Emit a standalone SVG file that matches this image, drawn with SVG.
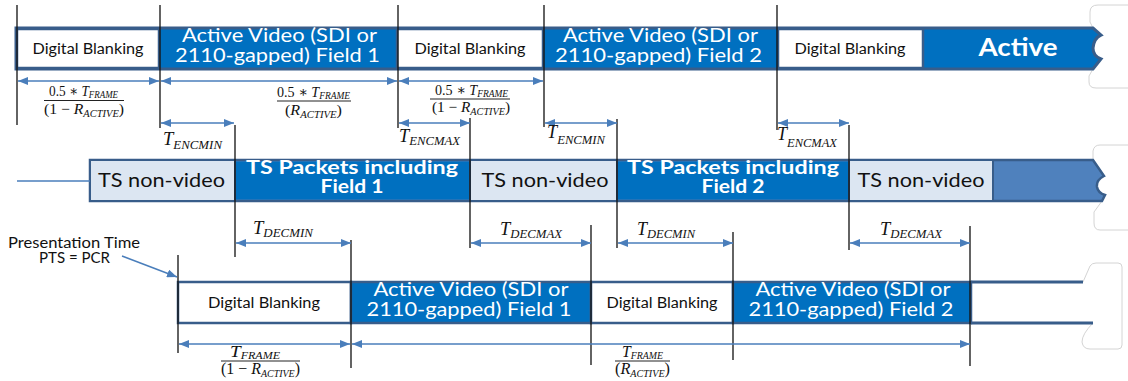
<svg xmlns="http://www.w3.org/2000/svg" width="1128" height="381" viewBox="0 0 1128 381">
  <defs>
    <marker id="ah" viewBox="0 0 10 8" refX="10" refY="4" markerWidth="10" markerHeight="8" markerUnits="userSpaceOnUse" orient="auto-start-reverse">
      <path d="M0 0 L10 4 L0 8 Z" fill="#4A7EBB"/>
    </marker>
    <style>
      .sans{font-family:Lato,'Noto Sans','Liberation Sans',sans-serif}
      .db{font-size:15.5px;fill:#111;text-anchor:middle}
      .av{font-size:20px;fill:#fff;text-anchor:middle}
      .ts{font-size:19.5px;fill:#111;text-anchor:middle}
      .tp{font-size:19.5px;font-weight:bold;fill:#fff;text-anchor:middle}
      .note{font-size:15.5px;fill:#111;text-anchor:middle}
      .m{font-family:'Liberation Serif','DejaVu Serif',serif;fill:#111}
      .i{font-style:italic}
      .wbox{fill:#fff;stroke:#385D8A;stroke-width:2.5}
      .bbox{fill:#0070C0;stroke:#385D8A;stroke-width:2.5}
      .lbox{fill:#DCE6F2;stroke:#385D8A;stroke-width:2}
      .tick{stroke:#111;stroke-width:1.3;fill:none}
      .dim{stroke:#4A7EBB;stroke-width:1.6;fill:none;marker-start:url(#ah);marker-end:url(#ah)}
      .arr{stroke:#4A7EBB;stroke-width:1.5;fill:none;marker-end:url(#ah)}
      .frac{stroke:#222;stroke-width:1}
      .brk{fill:none;stroke:#D4D4D4;stroke-width:1}
    </style>
  </defs>
  <rect width="1128" height="381" fill="#fff"/>

  <!-- break symbols at the right edge -->
  <path class="brk" d="M1128 5 H1098 Q1090 5 1090 12 V22 L1093 28 M1093 69 L1089 76 V82 Q1089 88 1096 88 H1128"/>
  <path class="brk" d="M1128 145 H1100 Q1094 145 1093 151 V160 M1102 201 L1094 212 V223 Q1094 230 1100 230 H1128"/>
  <path class="brk" d="M1083 282 L1090 266 Q1092 263 1096 263 H1118 Q1122 263 1122 267 V345 Q1122 349 1118 349 H1090 Q1083 349 1082 342 Q1082 334 1093 323"/>

  <!-- source signal row -->
  <g id="source-row">
    <path id="source-band" d="M16 28 H1093 L1101 35 Q1094 38 1093 48 Q1093 56 1101 59 L1093 69 H16 Z" fill="#0070C0" stroke="#385D8A" stroke-width="3"/>
    <g id="src-blank-1">
      <rect class="wbox" x="17" y="29" width="142" height="39"/>
      <text class="sans db" x="88" y="54" textLength="111" lengthAdjust="spacingAndGlyphs">Digital Blanking</text>
    </g>
    <g id="src-field-1">
      <text class="sans av"><tspan x="279.5" y="42" textLength="195" lengthAdjust="spacingAndGlyphs">Active Video (SDI or</tspan><tspan x="277.5" y="62" textLength="205" lengthAdjust="spacingAndGlyphs">2110-gapped) Field 1</tspan></text>
    </g>
    <g id="src-blank-2">
      <rect class="wbox" x="397" y="29" width="146" height="39"/>
      <text class="sans db" x="470" y="54" textLength="111" lengthAdjust="spacingAndGlyphs">Digital Blanking</text>
    </g>
    <g id="src-field-2">
      <text class="sans av"><tspan x="660.5" y="42" textLength="195" lengthAdjust="spacingAndGlyphs">Active Video (SDI or</tspan><tspan x="658.5" y="62" textLength="207" lengthAdjust="spacingAndGlyphs">2110-gapped) Field 2</tspan></text>
    </g>
    <g id="src-blank-3">
      <rect class="wbox" x="778" y="29" width="145" height="39"/>
      <text class="sans db" x="850" y="54" textLength="111" lengthAdjust="spacingAndGlyphs">Digital Blanking</text>
    </g>
    <g id="src-active">
      <text class="sans" x="1018" y="56" font-size="24" font-weight="bold" fill="#fff" text-anchor="middle" textLength="79" lengthAdjust="spacingAndGlyphs">Active</text>
    </g>
  </g>

  <!-- transport stream row -->
  <g id="ts-row">
    <path id="ts-band" d="M90 160 H1093 L1104 176 Q1096 180 1097 187 Q1098 193 1105 195 L1102 201 H90 Z" fill="#4F81BD" stroke="#385D8A" stroke-width="2.5"/>
    <g id="ts-nonvideo-1">
      <rect class="lbox" x="90" y="160" width="145" height="41"/>
      <text class="sans ts" x="161.5" y="187" textLength="127" lengthAdjust="spacingAndGlyphs">TS non-video</text>
    </g>
    <g id="ts-field-1">
      <rect x="236" y="161.5" width="233" height="38" fill="#0070C0"/>
      <text class="sans tp"><tspan x="352" y="174" textLength="212" lengthAdjust="spacingAndGlyphs">TS Packets including</tspan><tspan x="352" y="193" textLength="63" lengthAdjust="spacingAndGlyphs">Field 1</tspan></text>
    </g>
    <g id="ts-nonvideo-2">
      <rect class="lbox" x="470" y="160" width="147" height="41"/>
      <text class="sans ts" x="545" y="187" textLength="127" lengthAdjust="spacingAndGlyphs">TS non-video</text>
    </g>
    <g id="ts-field-2">
      <rect x="618" y="161.5" width="230" height="38" fill="#0070C0"/>
      <text class="sans tp"><tspan x="733" y="174" textLength="212" lengthAdjust="spacingAndGlyphs">TS Packets including</tspan><tspan x="733" y="193" textLength="63" lengthAdjust="spacingAndGlyphs">Field 2</tspan></text>
    </g>
    <g id="ts-nonvideo-3">
      <rect class="lbox" x="849" y="160" width="144" height="41"/>
      <text class="sans ts" x="921" y="187" textLength="127" lengthAdjust="spacingAndGlyphs">TS non-video</text>
    </g>
  </g>

  <!-- decoded output row -->
  <g id="out-row">
    <g id="out-blank-1">
      <rect class="wbox" x="178" y="282" width="173" height="41" stroke-width="3"/>
      <text class="sans db" x="264" y="308" textLength="112" lengthAdjust="spacingAndGlyphs">Digital Blanking</text>
    </g>
    <g id="out-field-1">
      <rect class="bbox" x="351" y="282" width="240" height="41" stroke-width="3"/>
      <text class="sans av"><tspan x="471" y="296" textLength="195" lengthAdjust="spacingAndGlyphs">Active Video (SDI or</tspan><tspan x="469" y="316" textLength="205" lengthAdjust="spacingAndGlyphs">2110-gapped) Field 1</tspan></text>
    </g>
    <g id="out-blank-2">
      <rect class="wbox" x="591" y="282" width="142" height="41" stroke-width="3"/>
      <text class="sans db" x="662" y="308" textLength="111" lengthAdjust="spacingAndGlyphs">Digital Blanking</text>
    </g>
    <g id="out-field-2">
      <rect class="bbox" x="733" y="282" width="238" height="41" stroke-width="3"/>
      <text class="sans av"><tspan x="853" y="296" textLength="195" lengthAdjust="spacingAndGlyphs">Active Video (SDI or</tspan><tspan x="851" y="316" textLength="205" lengthAdjust="spacingAndGlyphs">2110-gapped) Field 2</tspan></text>
    </g>
    <path id="out-open" d="M971 282 H1083 M971 323 H1093" stroke="#385D8A" stroke-width="3" fill="none"/>
  </g>

  <g id="pts-note">
    <text class="sans note"><tspan x="74" y="248" textLength="132" lengthAdjust="spacingAndGlyphs">Presentation Time</tspan><tspan x="74.5" y="263" textLength="71" lengthAdjust="spacingAndGlyphs">PTS = PCR</tspan></text>
  </g>

  <!-- timing marks, dimension arrows and pointers -->
  <g id="connectors">
    <path class="tick" d="M17 5 V125 M160 5 V128 M398 5 V128 M544 5 V127 M777 5 V130"/>
    <path class="tick" d="M235 125 V257 M470 118 V248 M617 119 V248 M849 125 V250"/>
    <path class="tick" d="M178 255 V353 M351 240 V368 M591 225 V365 M733 232 V360 M970 226 V366"/>

    <line class="dim" x1="18" y1="81" x2="159" y2="81"/>
    <line class="dim" x1="161" y1="81" x2="397" y2="81"/>
    <line class="dim" x1="399" y1="81" x2="543" y2="81"/>

    <line class="dim" x1="161" y1="123" x2="234" y2="123"/>
    <line class="dim" x1="399" y1="123" x2="470" y2="123"/>
    <line class="dim" x1="545" y1="123" x2="617" y2="123"/>
    <line class="dim" x1="778" y1="123" x2="849" y2="123"/>

    <line class="dim" x1="236" y1="243" x2="351" y2="243"/>
    <line class="dim" x1="471" y1="243" x2="591" y2="243"/>
    <line class="dim" x1="618" y1="243" x2="733" y2="243"/>
    <line class="dim" x1="850" y1="243" x2="970" y2="243"/>

    <line class="dim" x1="179" y1="344" x2="350" y2="344"/>
    <line class="dim" x1="352" y1="344" x2="970" y2="344"/>

    <line x1="17" y1="181" x2="90" y2="181" stroke="#4A7EBB" stroke-width="1.3"/>
    <line class="arr" x1="122" y1="256" x2="177" y2="277"/>
  </g>

  <!-- duration formulas -->
  <g id="formulas">
    <text class="m" x="49" y="96" font-size="15" textLength="69" lengthAdjust="spacingAndGlyphs">0.5 ∗ <tspan class="i">T</tspan><tspan class="i" font-size="10" dy="2">FRAME</tspan></text>
    <line class="frac" x1="44" y1="100.5" x2="124" y2="100.5"/>
    <text class="m" x="44" y="114" font-size="15" textLength="80" lengthAdjust="spacingAndGlyphs">(1 − <tspan class="i">R</tspan><tspan class="i" font-size="10" dy="3">ACTIVE</tspan><tspan dy="-3">)</tspan></text>

    <text class="m" x="277" y="97" font-size="15" textLength="73" lengthAdjust="spacingAndGlyphs">0.5 ∗ <tspan class="i">T</tspan><tspan class="i" font-size="10" dy="2">FRAME</tspan></text>
    <line class="frac" x1="277" y1="101" x2="351" y2="101"/>
    <text class="m" x="285" y="115" font-size="15" textLength="57" lengthAdjust="spacingAndGlyphs">(<tspan class="i">R</tspan><tspan class="i" font-size="10" dy="3">ACTIVE</tspan><tspan dy="-3">)</tspan></text>

    <text class="m" x="435" y="95" font-size="15" textLength="73" lengthAdjust="spacingAndGlyphs">0.5 ∗ <tspan class="i">T</tspan><tspan class="i" font-size="10" dy="2">FRAME</tspan></text>
    <line class="frac" x1="430" y1="99" x2="510" y2="99"/>
    <text class="m" x="432" y="112" font-size="15" textLength="78" lengthAdjust="spacingAndGlyphs">(1 − <tspan class="i">R</tspan><tspan class="i" font-size="10" dy="3">ACTIVE</tspan><tspan dy="-3">)</tspan></text>

    <text class="m" x="230" y="357" font-size="16" textLength="50" lengthAdjust="spacingAndGlyphs"><tspan class="i">T</tspan><tspan class="i" font-size="10" dy="2">FRAME</tspan></text>
    <line class="frac" x1="221" y1="361" x2="300" y2="361"/>
    <text class="m" x="221" y="374" font-size="16" textLength="79" lengthAdjust="spacingAndGlyphs">(1 − <tspan class="i">R</tspan><tspan class="i" font-size="10" dy="3">ACTIVE</tspan><tspan dy="-3">)</tspan></text>

    <text class="m" x="622" y="357" font-size="16" textLength="41" lengthAdjust="spacingAndGlyphs"><tspan class="i">T</tspan><tspan class="i" font-size="10" dy="2">FRAME</tspan></text>
    <line class="frac" x1="615" y1="361" x2="670" y2="361"/>
    <text class="m" x="615" y="374" font-size="16" textLength="55" lengthAdjust="spacingAndGlyphs">(<tspan class="i">R</tspan><tspan class="i" font-size="10" dy="3">ACTIVE</tspan><tspan dy="-3">)</tspan></text>
  </g>

  <!-- encoder / decoder delay labels -->
  <g id="delay-labels">
    <text class="m i" x="163" y="145" textLength="59" lengthAdjust="spacingAndGlyphs"><tspan font-size="18">T</tspan><tspan font-size="12.5" dy="4">ENCMIN</tspan></text>
    <text class="m i" x="399" y="142" textLength="61" lengthAdjust="spacingAndGlyphs"><tspan font-size="18">T</tspan><tspan font-size="12.5" dy="3">ENCMAX</tspan></text>
    <text class="m i" x="547" y="138" textLength="58" lengthAdjust="spacingAndGlyphs"><tspan font-size="18">T</tspan><tspan font-size="12.5" dy="6">ENCMIN</tspan></text>
    <text class="m i" x="777" y="140" textLength="60" lengthAdjust="spacingAndGlyphs"><tspan font-size="18">T</tspan><tspan font-size="12.5" dy="7">ENCMAX</tspan></text>

    <text class="m i" x="253" y="234" textLength="60" lengthAdjust="spacingAndGlyphs"><tspan font-size="18">T</tspan><tspan font-size="12.5" dy="3">DECMIN</tspan></text>
    <text class="m i" x="500" y="235" textLength="62" lengthAdjust="spacingAndGlyphs"><tspan font-size="18">T</tspan><tspan font-size="12.5" dy="3">DECMAX</tspan></text>
    <text class="m i" x="637" y="235" textLength="58" lengthAdjust="spacingAndGlyphs"><tspan font-size="18">T</tspan><tspan font-size="12.5" dy="3">DECMIN</tspan></text>
    <text class="m i" x="880" y="235" textLength="62" lengthAdjust="spacingAndGlyphs"><tspan font-size="18">T</tspan><tspan font-size="12.5" dy="3">DECMAX</tspan></text>
  </g>
</svg>
